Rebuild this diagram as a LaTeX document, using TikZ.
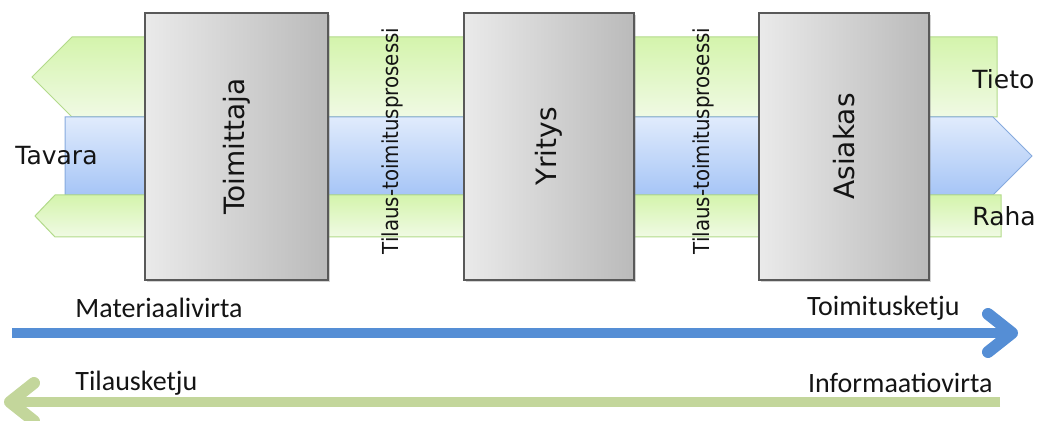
\documentclass[tikz,border=0pt]{standalone}
\usepackage{fontspec}
\setmainfont{DejaVu Sans}
\newfontfamily\calfont{Carlito}
\newfontfamily\condfont{DejaVu Sans Condensed}
\usetikzlibrary{arrows.meta,shadows}
\definecolor{bandg}{RGB}{212,244,172}
\definecolor{bandgl}{RGB}{240,250,228}
\definecolor{bandgd}{RGB}{178,218,138}
\definecolor{bandb}{RGB}{166,197,246}
\definecolor{bandbl}{RGB}{224,235,252}
\definecolor{bandbd}{RGB}{134,170,222}
\definecolor{boxl}{RGB}{234,234,234}
\definecolor{boxr}{RGB}{186,186,186}
\definecolor{flowb}{RGB}{85,142,213}
\definecolor{flowg}{RGB}{195,214,155}
\definecolor{txt}{RGB}{20,20,20}

\begin{document}
\begin{tikzpicture}[x=0.5pt,y=-0.5pt,
  actor/.style={draw=black!65, line width=0.8pt, left color=boxl, right color=boxr,
                minimum height=133.5pt, font=\fontsize{14}{16}\selectfont, text=txt,
                drop shadow={shadow xshift=1pt, shadow yshift=-1.2pt, opacity=0.35}},
  gband/.style={draw=bandgd, line width=0.5pt, top color=bandg, bottom color=bandgl},
  bband/.style={draw=bandbd, line width=0.5pt, top color=bandbl, bottom color=bandb},
  flow/.style={line width=5pt, -{Straight Barb[length=12pt, width=19pt, round, line width=6pt]}},
  lbl/.style={font=\fontsize{12.5}{14}\selectfont, text=txt, inner sep=0pt},
  proc/.style={font=\condfont\fontsize{11}{13}\selectfont, text=txt, inner sep=0pt},
  chain/.style={font=\calfont\fontsize{14}{16}\selectfont, text=txt, inner sep=0pt}
]
  \useasboundingbox (0,0) rectangle (1046,421);
  % flows through the chain
  \path[gband] (72,37) -- (997,37) -- (997,117) -- (72,117) -- (32,77) -- cycle;
  \path[bband] (65,117) -- (993,117) -- (1032,156) -- (993,195) -- (65,195) -- cycle;
  \path[gband] (55,195) -- (1001,195) -- (1001,237) -- (55,237) -- (35,216) -- cycle;
  \node[lbl, anchor=west] (tavara) at (15,156) {Tavara};
  \node[lbl, anchor=west] (tieto) at (972,79) {Tieto};
  \node[lbl, anchor=west] (raha) at (972,216) {Raha};
  % parties
  \node[actor, minimum width=91.5pt] (toim) at (236.5,146.5) {\rotatebox{90}{Toimittaja}};
  \node[actor, minimum width=85pt] (yrit) at (549,146.5) {\rotatebox{90}{Yritys}};
  \node[actor, minimum width=85pt] (asia) at (844,146.5) {\rotatebox{90}{Asiakas}};
  \node[proc] (proc1) at (392,141) {\rotatebox{90}{Tilaus-toimitusprosessi}};
  \node[proc] (proc2) at (703,141) {\rotatebox{90}{Tilaus-toimitusprosessi}};
  % chains
  \coordinate (mv0) at (12,333);
  \coordinate (mv1) at (1018,333);
  \coordinate (iv0) at (1000,402);
  \coordinate (iv1) at (4,402);
  \draw[flow, draw=flowb] (mv0) -- (mv1);
  \draw[flow, draw=flowg] (iv0) -- (iv1);
  \node[chain, anchor=west] (mat) at (75,308) {Materiaalivirta};
  \node[chain, anchor=east] (toimk) at (960,308) {Toimitusketju};
  \node[chain, anchor=west] (til) at (75,383) {Tilausketju};
  \node[chain, anchor=east] (info) at (993,383) {Informaatiovirta};
\end{tikzpicture}
\end{document}
